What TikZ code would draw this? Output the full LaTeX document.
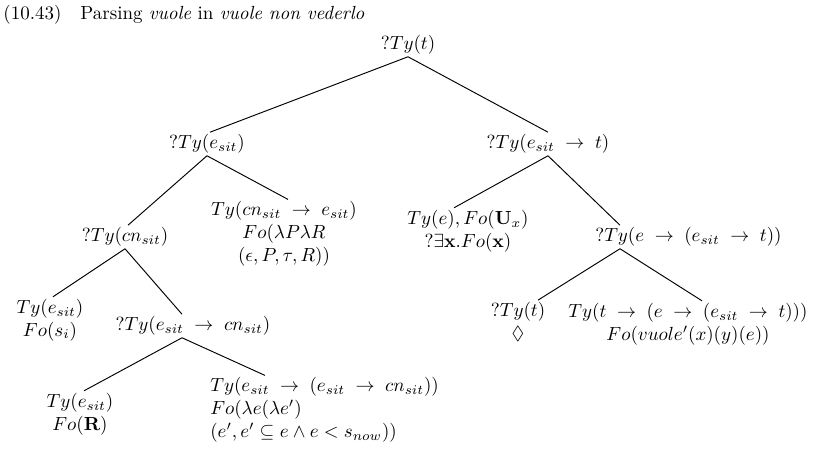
\documentclass[tikz,border=0pt]{standalone}
\usepackage{amssymb}
\newcommand{\ra}{\mathrel{\mskip5mu\rightarrow\mskip5mu}}
\begin{document}
\begin{tikzpicture}[x=0.5263pt,y=-0.5263pt,
  tn/.style={inner sep=1pt, align=center},
  tl/.style={inner sep=1pt, align=left},
  br/.style={line width=0.5pt}]
\useasboundingbox (0,0) rectangle (815,455);
\node[anchor=base west, inner sep=0pt] (title) at (3,20) {(10.43)\quad Parsing \emph{vuole} in \emph{vuole non vederlo}};
\node[tn] (root) at (408,45) {$?Ty(t)$};
\node[tn] (A) at (207,144) {$?Ty(e_{sit})$};
\node[tn] (B) at (548,144) {$?Ty(e_{sit}\ra t)$};
\node[tn] (A1) at (125,237) {$?Ty(cn_{sit})$};
\node[tn] (A2) at (284,234) {$Ty(cn_{sit}\ra e_{sit})$\\ $Fo(\lambda P\lambda R$\\ $(\epsilon,P,\tau,R))$};
\node[tn] (A11) at (50,320) {$Ty(e_{sit})$\\ $Fo(s_i)$};
\node[tn] (A12) at (193,326) {$?Ty(e_{sit}\ra cn_{sit})$};
\node[tn] (A121) at (80,414) {$Ty(e_{sit})$\\ $Fo(\mathbf{R})$};
\node[tl, anchor=west] (A122) at (208,410) {$Ty(e_{sit}\ra(e_{sit}\ra cn_{sit}))$\\ $Fo(\lambda e(\lambda e')$\\ $(e',e'\subseteq e\wedge e<s_{now}))$};
\node[tn] (B1) at (468,231) {$Ty(e),Fo(\mathbf{U}_x)$\\ $?\exists\mathbf{x}.Fo(\mathbf{x})$};
\node[tn, anchor=west] (B2) at (593,237) {$?Ty(e\ra(e_{sit}\ra t))$};
\node[tn] (B21) at (518,322) {$?Ty(t)$\\ $\Diamond$};
\node[tn] (B22) at (688,324) {$Ty(t\ra(e\ra(e_{sit}\ra t)))$\\ $Fo(vuole'(x)(y)(e))$};
\draw[br] (root.south) -- ([shift={(3,0)}]A.north);
\draw[br] (root.south) -- (B.north);
\draw[br] (A.south) -- ([shift={(3,0)}]A1.north);
\draw[br] (A.south) -- ([shift={(4,0)}]A2.north);
\draw[br] (A1.south) -- ([shift={(3,0)}]A11.north);
\draw[br] (A1.south) -- ([shift={(-11,0)}]A12.north);
\draw[br] ([shift={(-11,0)}]A12.south) -- ([shift={(4,0)}]A121.north);
\draw[br] ([shift={(-11,0)}]A12.south) -- ([shift={(57,0)}]A122.north west);
\draw[br] (B.south) -- ([shift={(-14,0)}]B1.north);
\draw[br] (B.south) -- ([shift={(27,0)}]B2.north west);
\draw[br] ([shift={(27,0)}]B2.south west) -- ([shift={(20,0)}]B21.north);
\draw[br] ([shift={(27,0)}]B2.south west) -- ([shift={(14,0)}]B22.north);
\end{tikzpicture}
\end{document}
